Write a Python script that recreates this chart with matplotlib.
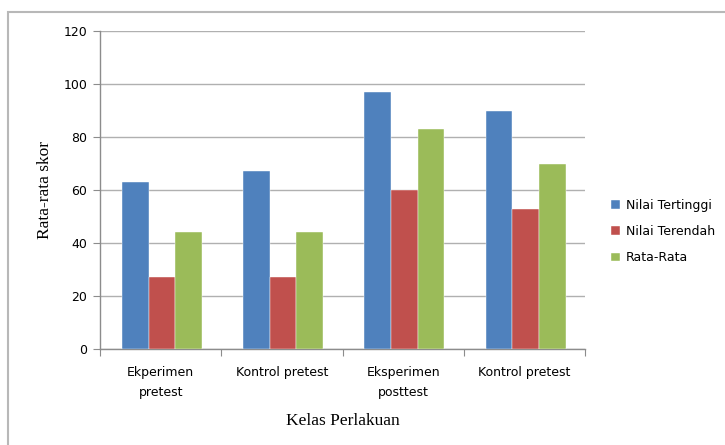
import matplotlib
matplotlib.use("Agg")
import matplotlib.pyplot as plt
import numpy as np
from matplotlib.patches import Rectangle

categories = ["Ekperimen\npretest", "Kontrol pretest", "Eksperimen\nposttest", "Kontrol pretest"]
series_names = ["Nilai Tertinggi", "Nilai Terendah", "Rata-Rata"]
tertinggi = [63, 67, 97, 90]
terendah = [27, 27, 60, 53]
rata = [44, 44, 83, 70]
colors = ["#4F81BD", "#C0504D", "#9BBB59"]
yticks = [0, 20, 40, 60, 80, 100, 120]

fig = plt.figure(figsize=(7.25, 4.45), dpi=100)
fig.patch.set_facecolor("white")
ax = fig.add_axes([100/725, 1-349/445, 485/725, 318/445])

x = np.arange(len(categories))
w = 0.22
for i, (vals, name, c) in enumerate(zip([tertinggi, terendah, rata], series_names, colors)):
    ax.bar(x + (i-1)*w + 0.01, vals, width=w, color=c, label=name, zorder=3,
           edgecolor="white", linewidth=0.3)

ax.set_xlim(-0.5, len(categories)-0.5)
ax.set_ylim(0, 120)
ax.set_yticks(yticks)
ax.set_yticklabels([str(t) for t in yticks], fontsize=9, family="DejaVu Sans")
ax.yaxis.grid(True, color="#b0b0b0", linewidth=1.0, zorder=0)
ax.set_axisbelow(True)

ax.set_xticks(np.arange(-0.5, len(categories)), minor=False)
ax.set_xticklabels([])
ax.set_xticks(x, minor=True)
ax.set_xticklabels(categories, minor=True, fontsize=9, family="DejaVu Sans", linespacing=1.75)
ax.tick_params(axis="x", which="minor", length=0, pad=12)
ax.tick_params(axis="x", which="major", length=5, color="#8c8c8c", direction="out")
ax.tick_params(axis="y", length=5, color="#8c8c8c", pad=4)

for s in ["top", "right"]:
    ax.spines[s].set_visible(False)
for s in ["left", "bottom"]:
    ax.spines[s].set_color("#8c8c8c")
    ax.spines[s].set_linewidth(1.0)

ax.set_ylabel("Rata-rata skor", family="Liberation Serif", fontsize=12.5, labelpad=8)
ax.set_xlabel("Kelas Perlakuan", family="Liberation Serif", fontsize=12.5, labelpad=10)

leg = ax.legend(loc="center left", bbox_to_anchor=(1.03, 0.369), frameon=False,
                handlelength=0.7, handleheight=0.7, labelspacing=1.05,
                handletextpad=0.5, prop={"family": "DejaVu Sans", "size": 9})

# outer frame
fig.add_artist(Rectangle((8/725, -0.05), 1.2, 1-12/445+0.05, transform=fig.transFigure,
                         fill=False, edgecolor="#b8b8b8", linewidth=1.5))

fig.savefig("out.png", dpi=100, facecolor="white")
